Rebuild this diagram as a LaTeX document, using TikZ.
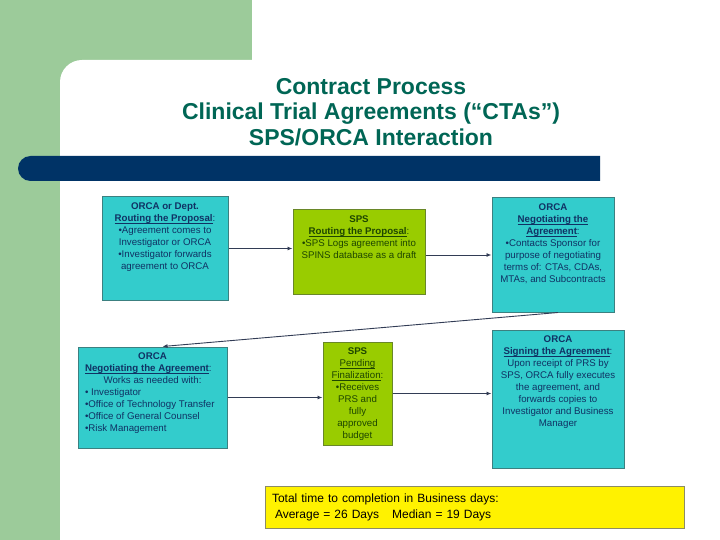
\documentclass[tikz,border=0pt]{standalone}
\usepackage{fontspec}
\setmainfont{Liberation Sans}
\usepackage{tikz}
\usetikzlibrary{arrows.meta}
\definecolor{slidegreen}{RGB}{156,203,154}
\definecolor{barnavy}{RGB}{0,51,102}
\definecolor{titleteal}{RGB}{0,102,85}
\definecolor{orcafill}{RGB}{51,204,204}
\definecolor{orcaline}{RGB}{60,128,128}
\definecolor{orcatext}{RGB}{16,50,100}
\definecolor{spsfill}{RGB}{153,204,0}
\definecolor{spsline}{RGB}{105,135,40}
\definecolor{spstext}{RGB}{30,70,0}
\definecolor{sumline}{RGB}{140,140,100}
\definecolor{flowline}{RGB}{50,60,85}
\tikzstyle{orcabox} = [draw=orcaline, fill=orcafill, text=orcatext, line width=1pt, inner sep=0pt]
\tikzstyle{spsbox} = [draw=spsline, fill=spsfill, text=spstext, line width=1pt, inner sep=0pt]
\tikzstyle{sumbox} = [draw=sumline, fill=yellow, line width=1pt, minimum width=419pt, minimum height=42pt, inner xsep=7pt, text width=405pt, align=left, font=\fontsize{12}{16}\selectfont]
\tikzstyle{flow} = [draw=flowline, line width=0.9pt, -{Latex[length=5pt,width=4pt]}]
\newcommand{\boxlines}[3]{\parbox[c][#2][t]{#1}{\fontsize{9.7}{12}\selectfont\vspace*{6pt}\centering #3}}
\newcommand{\undl}[1]{\leavevmode\setbox0\hbox{#1}\rlap{\rule[-1.3pt]{\wd0}{0.5pt}}\box0}

\begin{document}
\begin{tikzpicture}[x=1pt, y=-1pt]
	\useasboundingbox (0,0) rectangle (720,540);
	\fill[white] (0,0) rectangle (720,540);
	\fill[slidegreen] (0,0) rectangle (252,100);
	\fill[slidegreen] (0,0) rectangle (60,540);
	\fill[white] (60,540) [rounded corners=22pt] -- (60,60) [sharp corners] -- (720,60) -- (720,540) -- cycle;
	\fill[barnavy] (600,156) -- (30.5,156) arc[start angle=270, end angle=90, radius=12.5] -- (600,181) -- cycle;
	\node[text=titleteal, font=\fontsize{23}{25.5}\selectfont\bfseries, align=center] (title) at (371,112)
		{Contract Process\\Clinical Trial Agreements (“CTAs”)\\SPS/ORCA Interaction};

	\node[orcabox] (routeorca) at (165,248.5) {\boxlines{126pt}{103pt}{%
		\textbf{ORCA or Dept.}\\\undl{\textbf{Routing the Proposal}}:\\%
		•Agreement comes to\\Investigator or ORCA\\•Investigator forwards\\agreement to ORCA}};
	\node[spsbox] (routesps) at (359,252) {\boxlines{132pt}{84pt}{%
		\textbf{SPS}\\\undl{\textbf{Routing the Proposal}}:\\%
		•SPS Logs agreement into\\SPINS database as a draft}};
	\node[orcabox] (negorca) at (553,255) {\boxlines{122pt}{114pt}{%
		\textbf{ORCA}\\\undl{\textbf{Negotiating the}}\\\undl{\textbf{Agreement}}:\\%
		•Contacts Sponsor for\\purpose of negotiating\\terms of: CTAs, CDAs,\\MTAs, and Subcontracts}};
	\node[orcabox] (negwork) at (152.5,397.5) {\boxlines{149pt}{101pt}{%
		\textbf{ORCA}\par
		\raggedright\leftskip=7pt\undl{\textbf{Negotiating the Agreement}}:\par
		\centering Works as needed with:\par
		\raggedright\leftskip=7pt • Investigator\\•Office of Technology Transfer\\%
		•Office of General Counsel\\•Risk Management\par}};
	\node[spsbox] (pending) at (357.5,393.5) {\boxlines{69pt}{103pt}{%
		\textbf{SPS}\\\undl{Pending}\\\undl{Finalization}:\\%
		•Receives\\PRS and\\fully\\approved\\budget}};
	\node[orcabox] (signorca) at (558,399) {\boxlines{132pt}{138pt}{%
		\textbf{ORCA}\\\undl{\textbf{Signing the Agreement}}:\\%
		Upon receipt of PRS by\\SPS, ORCA fully executes\\the agreement, and\\forwards copies to\\%
		Investigator and Business\\Manager}};
	\node[sumbox] (totals) at (474.5,507) {Total time to completion in Business days:\\
		\hspace*{3pt}Average = 26 Days\hspace{13pt}Median = 19 Days};

	\draw[flow] (routeorca.east) -- (routeorca.east -| routesps.west);
	\draw[flow] (routesps.east |- negorca.west) -- (negorca.west);
	\draw[flow] ([xshift=5pt]negorca.south) -- ([xshift=10pt]negwork.north);
	\draw[flow] (negwork.east) -- (negwork.east -| pending.west);
	\draw[flow] (pending.east) -- (pending.east -| signorca.west);
\end{tikzpicture}
\end{document}
